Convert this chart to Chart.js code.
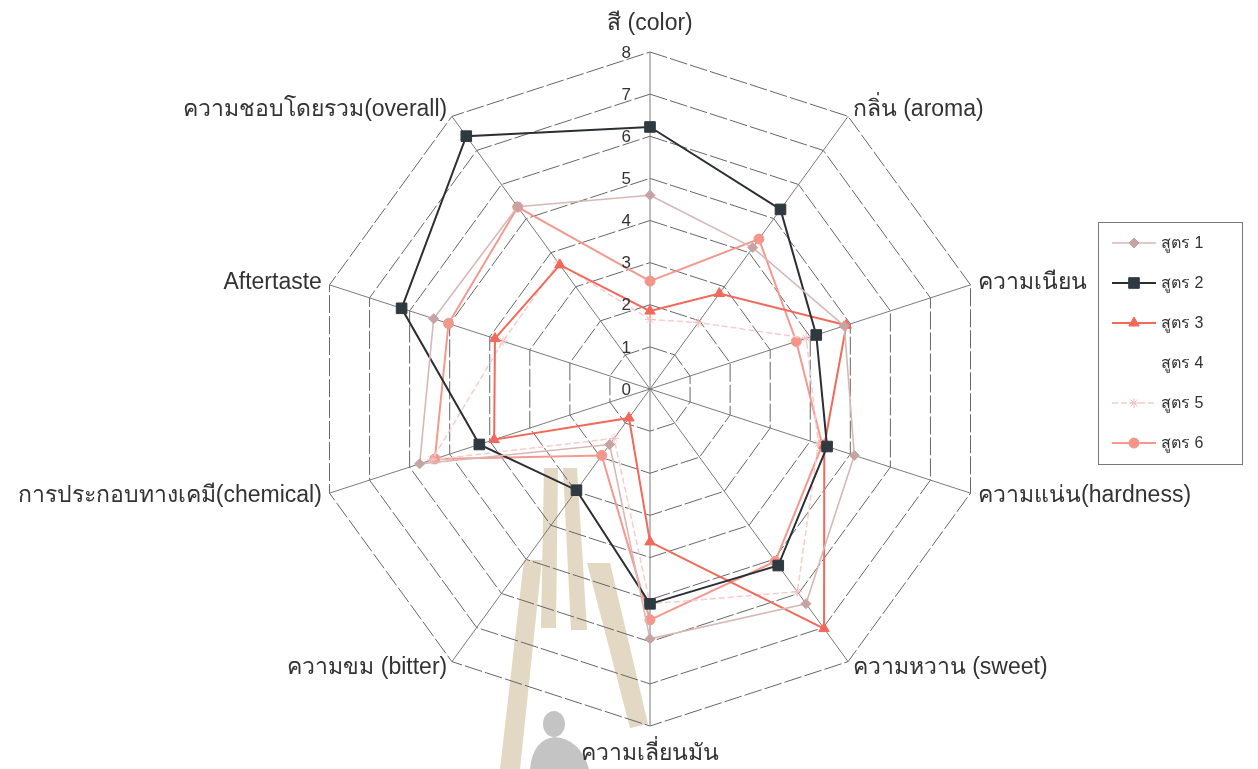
<!DOCTYPE html>
<html>
<head>
<meta charset="utf-8">
<script src="https://cdn.jsdelivr.net/npm/chart.js@4.4.1/dist/chart.umd.min.js"></script>
<style>
  html, body { margin: 0; padding: 0; background: #ffffff; }
  canvas { display: block; }
</style>
</head>
<body>
<canvas id="radar" width="1258" height="769"></canvas>
<script>
// Sensory attributes, clockwise from the top
const categories = [
  'สี (color)',
  'กลิ่น (aroma)',
  'ความเนียน',
  'ความแน่น(hardness)',
  'ความหวาน (sweet)',
  'ความเลี่ยนมัน',
  'ความขม (bitter)',
  'การประกอบทางเคมี(chemical)',
  'Aftertaste',
  'ความชอบโดยรวม(overall)'
];

// Scale ticks 0..8
const tickLabels = ['0', '1', '2', '3', '4', '5', '6', '7', '8'];

const seriesNames = ['สูตร 1', 'สูตร 2', 'สูตร 3', 'สูตร 4', 'สูตร 5', 'สูตร 6'];

// Mean panel scores per formula
const formula1 = [4.60, 4.15, 4.85, 5.10, 6.30, 5.93, 1.63, 5.75, 5.40, 5.35];
const formula2 = [6.22, 5.27, 4.15, 4.42, 5.18, 5.10, 2.97, 4.26, 6.20, 7.42];
const formula3 = [1.85, 2.80, 4.90, 4.35, 7.03, 3.63, 0.85, 3.89, 3.87, 3.64];
const formula4 = [null, null, null, null, null, null, null, null, null, null];
const formula5 = [1.65, 1.95, 3.90, 4.20, 5.95, 5.10, 1.45, 5.44, 3.67, 3.70];
const formula6 = [2.56, 4.40, 3.65, 4.30, 5.06, 5.48, 1.95, 5.37, 5.03, 5.34];

const LABEL_FONT = '23px "Liberation Sans", Arial, sans-serif';
const TICK_FONT = '17px "Liberation Sans", Arial, sans-serif';
const LEGEND_FONT = '16px "Liberation Sans", Arial, sans-serif';
const TEXT_COLOR = '#333333';

function series(label, data, color, pointColor, style, radius, width, dash) {
  return {
    label: label,
    data: data,
    borderColor: color,
    backgroundColor: pointColor,
    pointBackgroundColor: pointColor,
    pointBorderColor: pointColor,
    pointStyle: style,
    pointRadius: radius,
    pointHoverRadius: radius,
    pointBorderWidth: 1,
    borderWidth: width,
    borderDash: dash || [],
    fill: false,
    tension: 0,
    spanGaps: true
  };
}

const datasets = [
  series(seriesNames[0], formula1, '#d9b7b7', '#c7a3a3', 'rectRot', 5, 1.6),
  series(seriesNames[1], formula2, '#2b2f33', '#2e3a40', 'rect', 7.5, 2),
  series(seriesNames[2], formula3, '#f2695c', '#f2695c', 'triangle', 6, 2),
  series(seriesNames[3], formula4, 'rgba(0,0,0,0)', 'rgba(0,0,0,0)', false, 0, 0),
  series(seriesNames[4], formula5, '#f8cccc', '#f6c0c0', 'star', 5, 1.5, [6, 3]),
  series(seriesNames[5], formula6, '#f5988d', '#f5968b', 'circle', 5, 2)
];

// Faint watermark emblem behind the plot
const watermark = {
  id: 'watermark',
  beforeDraw(chart) {
    const ctx = chart.ctx;
    ctx.save();
    ctx.fillStyle = 'rgba(223, 212, 188, 0.9)';
    const polys = [
      [[544, 468], [558, 468], [556, 628], [541, 628]],
      [[563, 468], [577, 468], [587, 630], [571, 630]],
      [[587, 563], [610, 563], [648, 724], [630, 728]],
      [[524, 560], [542, 560], [520, 769], [500, 769]]
    ];
    polys.forEach(p => {
      ctx.beginPath();
      ctx.moveTo(p[0][0], p[0][1]);
      for (let i = 1; i < p.length; i++) ctx.lineTo(p[i][0], p[i][1]);
      ctx.closePath();
      ctx.fill();
    });
    // figure silhouette
    ctx.fillStyle = 'rgba(190, 190, 190, 0.9)';
    ctx.beginPath();
    ctx.ellipse(554, 724, 11, 13, 0, 0, Math.PI * 2);
    ctx.fill();
    ctx.beginPath();
    ctx.moveTo(530, 769);
    ctx.quadraticCurveTo(533, 739, 555, 737);
    ctx.quadraticCurveTo(580, 739, 589, 769);
    ctx.closePath();
    ctx.fill();
    ctx.restore();
  }
};

// Tick numbers, attribute names and the legend box
const annotations = {
  id: 'annotations',
  afterDraw(chart) {
    const ctx = chart.ctx;
    const scale = chart.scales.r;
    const H = Chart.helpers;
    ctx.save();

    // tick numbers beside the top spoke
    ctx.font = TICK_FONT;
    ctx.fillStyle = TEXT_COLOR;
    ctx.textAlign = 'right';
    ctx.textBaseline = 'middle';
    tickLabels.forEach(t => {
      const d = scale.getDistanceFromCenterForValue(Number(t));
      ctx.fillText(t, scale.xCenter - 19, scale.yCenter - d + 1);
    });

    // attribute names outside the outer ring
    ctx.font = LABEL_FONT;
    categories.forEach((name, i) => {
      const probe = scale.getPointPosition(i, scale.drawingArea);
      const dx = probe.x - scale.xCenter;
      const vertical = Math.abs(dx) < 1;
      const p = scale.getPointPosition(i, scale.drawingArea + (vertical ? 28 : 8));
      ctx.textAlign = vertical ? 'center' : (dx > 0 ? 'left' : 'right');
      ctx.textBaseline = 'middle';
      ctx.fillText(name, p.x, p.y);
    });

    // legend
    const box = { x: 1098, y: 222, w: 144, h: 242 };
    ctx.strokeStyle = '#777777';
    ctx.lineWidth = 1;
    ctx.setLineDash([]);
    ctx.strokeRect(box.x + 0.5, box.y + 0.5, box.w, box.h);
    ctx.font = LEGEND_FONT;
    ctx.textAlign = 'left';
    ctx.textBaseline = 'middle';
    chart.data.datasets.forEach((ds, i) => {
      const y = box.y + 21 + i * 40;
      const x0 = box.x + 14, x1 = box.x + 58;
      if (ds.borderWidth > 0) {
        ctx.strokeStyle = ds.borderColor;
        ctx.lineWidth = ds.borderWidth;
        ctx.setLineDash(ds.borderDash || []);
        ctx.beginPath();
        ctx.moveTo(x0, y);
        ctx.lineTo(x1, y);
        ctx.stroke();
        ctx.setLineDash([]);
      }
      if (ds.pointStyle && ds.pointRadius > 0) {
        ctx.fillStyle = ds.pointBackgroundColor;
        ctx.strokeStyle = ds.pointBorderColor;
        ctx.lineWidth = ds.pointBorderWidth;
        H.drawPoint(ctx, { pointStyle: ds.pointStyle, radius: ds.pointRadius, rotation: 0, borderWidth: ds.pointBorderWidth }, (x0 + x1) / 2, y);
      }
      ctx.fillStyle = TEXT_COLOR;
      ctx.fillText(ds.label, x1 + 5, y + 1);
    });
    ctx.restore();
  }
};

new Chart(document.getElementById('radar'), {
  type: 'radar',
  data: { labels: categories, datasets: datasets },
  options: {
    responsive: false,
    animation: false,
    devicePixelRatio: 1,
    layout: { padding: { left: 150, right: 108, top: 52, bottom: 43 } },
    plugins: {
      legend: { display: false },
      tooltip: { enabled: false }
    },
    elements: { line: { tension: 0 } },
    scales: {
      r: {
        min: 0,
        max: 8,
        ticks: { display: false, stepSize: 1 },
        pointLabels: { display: false },
        grid: { color: '#666666', lineWidth: 1 },
        border: { dash: [18, 3] },
        angleLines: { color: '#7a7a7a', lineWidth: 1 }
      }
    }
  },
  plugins: [watermark, annotations]
});
</script>
</body>
</html>
